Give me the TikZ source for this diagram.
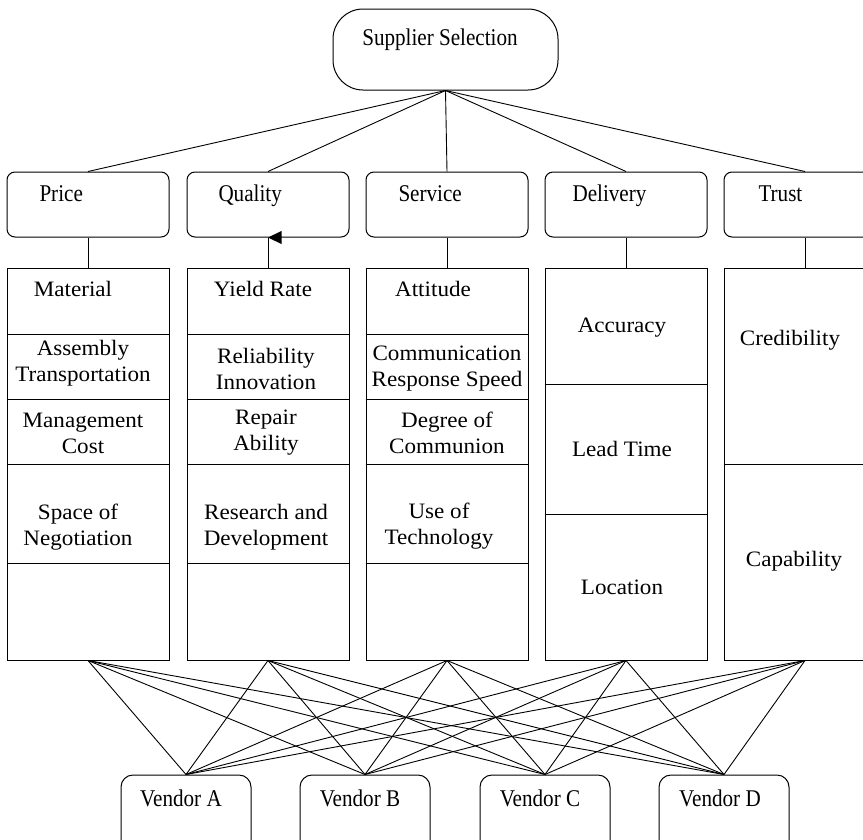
\documentclass[tikz,border=0pt]{standalone}
\usepackage{fontspec}
\setmainfont{Liberation Serif}
\newfontfamily\subfont[FakeStretch=1.05]{Liberation Serif}
\newfontfamily\lblfont[FakeStretch=0.88]{Liberation Serif}
\usetikzlibrary{arrows.meta}
\tikzset{
  topbox/.style={draw, rounded corners=30pt, minimum width=225pt, minimum height=81pt, inner sep=0pt},
  critbox/.style={draw, rounded corners=8pt, minimum width=162pt, minimum height=65pt, inner sep=0pt},
  vendbox/.style={draw, rounded corners=12pt, minimum width=130pt, minimum height=100pt, inner sep=0pt},
  colbox/.style={draw, minimum width=162pt, minimum height=392pt, inner sep=0pt},
  lbl/.style={font=\lblfont\fontsize{24}{28}\selectfont, inner sep=0pt},
  sublbl/.style={font=\subfont\fontsize{22}{26}\selectfont, align=center, inner sep=0pt},
  link/.style={draw, line width=0.9pt},
}
\begin{document}
\begin{tikzpicture}[x=1pt, y=-1pt, line width=1pt]
\useasboundingbox (0,0) rectangle (863,839);
\clip (0,0) rectangle (863,839);

% top node
\node[topbox] (sel) at (445.5,49.5) {};
\node[lbl] (selT) at (440,40) {Supplier Selection};

% criteria
\node[critbox] (cP) at (88,204.5) {};
\node[critbox] (cQ) at (268,204.5) {};
\node[critbox] (cS) at (447,204.5) {};
\node[critbox] (cD) at (626,204.5) {};
\node[critbox] (cT) at (805,204.5) {};
\node[lbl, anchor=base west] (cPT) at (39,201) {Price};
\node[lbl, anchor=base west] (cQT) at (218,201) {Quality};
\node[lbl, anchor=base west] (cST) at (398,201) {Service};
\node[lbl, anchor=base west] (cDT) at (572,201) {Delivery};
\node[lbl, anchor=base west] (cTT) at (758,201) {Trust};

% columns
\node[colbox] (colP) at (88,464) {};
\node[colbox] (colQ) at (268,464) {};
\node[colbox] (colS) at (447,464) {};
\node[colbox] (colD) at (626,464) {};
\node[colbox] (colT) at (805,464) {};

\foreach \c in {colP,colQ,colS}{
  \foreach \yy in {334,399,464,563}{
    \draw (\c.west |- 0,\yy) -- (\c.east |- 0,\yy);
  }
}
\foreach \yy in {384,514}{
  \draw (colD.west |- 0,\yy) -- (colD.east |- 0,\yy);
}
\draw (colT.west |- 0,464) -- (colT.east |- 0,464);

% sub-criteria texts
\node[sublbl] (p1) at (73,289) {Material};
\node[sublbl] (p2) at (83,363) {Assembly\\Transportation};
\node[sublbl] (p3) at (83,433) {Management\\Cost};
\node[sublbl] (p4) at (78,527) {Space of\\Negotiation};

\node[sublbl] (q1) at (263,289) {Yield Rate};
\node[sublbl] (q2) at (266,369) {Reliability\\Innovation};
\node[sublbl] (q3) at (266,433) {Repair\\Ability};
\node[sublbl] (q4) at (266,527) {Research and\\Development};

\node[sublbl] (s1) at (433,289) {Attitude};
\node[sublbl] (s2) at (447,369) {Communication\\Response Speed};
\node[sublbl] (s3) at (447,433) {Degree of\\Communion};
\node[sublbl] (s4) at (439,526) {Use of\\Technology};

\node[sublbl] (d1) at (622,328) {Accuracy};
\node[sublbl] (d2) at (622,449) {Lead Time};
\node[sublbl] (d3) at (622,587) {Location};

\node[sublbl] (t1) at (790,340) {Credibility};
\node[sublbl] (t2) at (794,561) {Capability};

% vendors
\node[vendbox] (vA) at (186,825) {};
\node[vendbox] (vB) at (365,825) {};
\node[vendbox] (vC) at (545,825) {};
\node[vendbox] (vD) at (724,825) {};
\node[lbl] (vAT) at (181,798) {Vendor A};
\node[lbl] (vBT) at (360,798) {Vendor B};
\node[lbl] (vCT) at (540,798) {Vendor C};
\node[lbl] (vDT) at (720,798) {Vendor D};

% top links
\foreach \c in {cP,cQ,cS,cD,cT}{
  \path[link] (sel.south) -- (\c.north);
}
% criteria to columns
\path[link] (cP.south) -- (colP.north);
\path[link] (cS.south) -- (colS.north);
\path[link] (cD.south) -- (colD.north);
\path[link] (cT.south) -- (colT.north);
\path[link] (colQ.north) -- (cQ.south);
\fill (cQ.south) -- ++(13.5,-6.5) -- ++(0,13) -- cycle;

% columns to vendors
\foreach \c in {colP,colQ,colS,colD,colT}{
  \foreach \v in {vA,vB,vC,vD}{
    \path[link] (\c.south) -- (\v.north);
  }
}
\end{tikzpicture}
\end{document}
